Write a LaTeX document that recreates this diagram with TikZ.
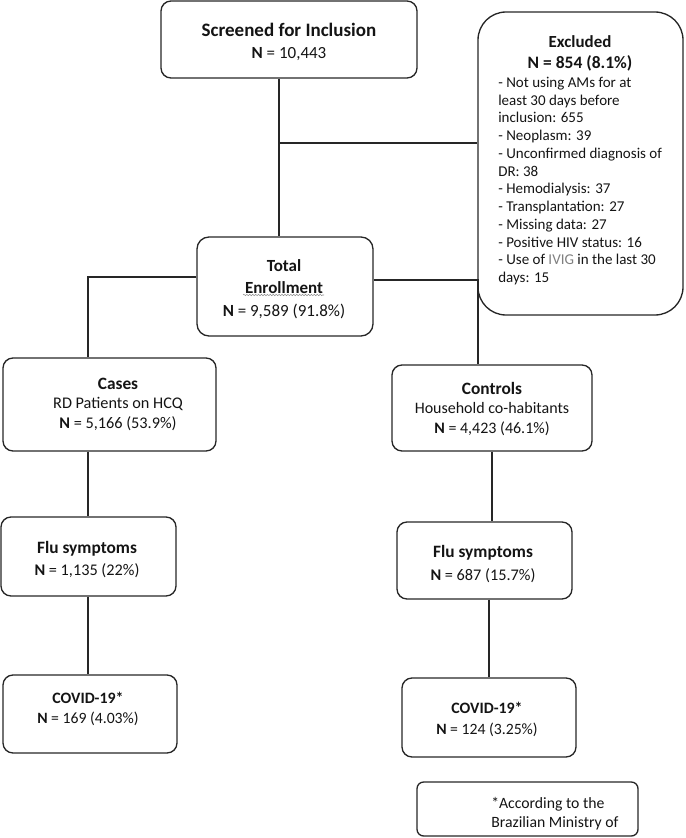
\documentclass[tikz,border=0pt]{standalone}
\usepackage{fontspec}
\setmainfont{Carlito}
\usetikzlibrary{decorations.pathmorphing}
\begin{document}
\begin{tikzpicture}[x=0.75pt,y=-0.75pt,
  box/.style={draw=black!85, line width=1pt, rounded corners=#1, inner sep=0pt},
  box/.default=7.5pt,
  conn/.style={draw=black!85, line width=0.8pt},
  txt/.style={inner sep=0pt, align=center, text=black!92},
  ltxt/.style={inner sep=0pt, align=left, text=black!92},
]
\useasboundingbox (0,0) rectangle (685,838);

% boxes
\node[box, minimum width=192pt, minimum height=57.75pt] (scr) at (289,39.5) {};
\node[box=21pt, minimum width=153.75pt, minimum height=227.25pt] (exc) at (580.5,163.5) {};
\node[box=9pt, minimum width=132pt, minimum height=74.25pt] (tot) at (285,286.5) {};
\node[box, minimum width=159.75pt, minimum height=69.75pt] (cas) at (109.5,404.5) {};
\node[box, minimum width=150pt, minimum height=64.5pt] (con) at (492,408) {};
\node[box, minimum width=131.25pt, minimum height=59.25pt] (flul) at (88.5,556.5) {};
\node[box, minimum width=131.25pt, minimum height=57.75pt] (flur) at (484.5,560.5) {};
\node[box, minimum width=130.5pt, minimum height=58.5pt] (covl) at (90,714) {};
\node[box, minimum width=130.5pt, minimum height=59.25pt] (covr) at (489,717.5) {};
\node[box=5pt, minimum width=165.75pt, minimum height=40.5pt] (foot) at (527.5,809) {};

% texts
\node[txt, font=\fontsize{12.75}{16.5}\selectfont] (scrT) at (289,42)
  {{\fontsize{14.25}{16.5}\selectfont\bfseries Screened for Inclusion}\\\textbf{N} = 10,443};
\node[txt, font=\fontsize{12.7}{15.75}\selectfont\bfseries] (excT) at (580,53.5)
  {Excluded\\{\fontsize{13.1}{15.75}\selectfont N = 854 (8.1\%)}};
\node[ltxt, anchor=west, font=\fontsize{11.25}{13.3}\selectfont] (excL) at (498,181)
  {- Not using AMs for at\\least 30 days before\\inclusion: 655\\- Neoplasm: 39\\- Unconfirmed diagnosis of\\DR: 38\\- Hemodialysis: 37\\- Transplantation: 27\\- Missing data: 27\\- Positive HIV status: 16\\- Use of {\color{black!50}IVIG} in the last 30\\days: 15};
\node[txt, font=\fontsize{12.75}{16.9}\selectfont] (totT) at (284,289)
  {\textbf{Total}\\\textbf{Enrollment}\\\textbf{N} = 9,589 (91.8\%)};
\node[txt, font=\fontsize{12.2}{14.6}\selectfont] (casT) at (118,404)
  {{\fontsize{13}{14.6}\selectfont\bfseries Cases}\\RD Patients on HCQ\\\textbf{N} = 5,166 (53.9\%)};
\node[txt, font=\fontsize{12}{14.6}\selectfont] (conT) at (492,409)
  {{\fontsize{13}{14.6}\selectfont\bfseries Controls}\\Household co-habitants\\\textbf{N} = 4,423 (46.1\%)};
\node[txt, font=\fontsize{12.2}{16.5}\selectfont] (flulT) at (87,559.5)
  {{\fontsize{13}{16.5}\selectfont\bfseries Flu symptoms}\\\textbf{N} = 1,135 (22\%)};
\node[txt, font=\fontsize{12.2}{17.2}\selectfont] (flurT) at (483,564)
  {{\fontsize{13}{17.2}\selectfont\bfseries Flu symptoms}\\\textbf{N} = 687 (15.7\%)};
\node[txt, font=\fontsize{11.8}{15}\selectfont] (covlT) at (88,708.5)
  {{\fontsize{11.9}{15}\selectfont\bfseries COVID-19*}\\\textbf{N} = 169 (4.03\%)};
\node[txt, font=\fontsize{11.8}{15.75}\selectfont] (covrT) at (487,719)
  {{\fontsize{11.9}{15.75}\selectfont\bfseries COVID-19*}\\\textbf{N} = 124 (3.25\%)};
\node[ltxt, anchor=west, font=\fontsize{11.8}{14.25}\selectfont] (footT) at (491,814)
  {*According to the\\Brazilian Ministry of};

% spell-check squiggle under "Enrollment"
\coordinate (sq1) at (243,295);
\coordinate (sq2) at (324,295);
\draw[black!45, line width=0.4pt, decorate, decoration={snake, amplitude=0.5pt, segment length=2.2pt}] (sq1) -- (sq2);

% connectors
\coordinate (j1) at (279,143);
\draw[conn] (scr.south -| j1) -- (tot.north -| j1);
\draw[conn] (j1) -- (exc.west |- j1);
\coordinate (j2) at (88,277);
\draw[conn] (tot.west |- j2) -- (j2) -- (cas.north -| j2);
\coordinate (j3) at (478,280);
\draw[conn] (tot.east |- j3) -- (j3) -- (con.north -| j3);
\draw[conn] (cas.south -| j2) -- (flul.north -| j2);
\draw[conn] (flul.south -| j2) -- (covl.north -| j2);
\draw[conn] (con.south) -- (con.south |- flur.north);
\draw[conn] (covr.north |- flur.south) -- (covr.north);
\end{tikzpicture}
\end{document}
